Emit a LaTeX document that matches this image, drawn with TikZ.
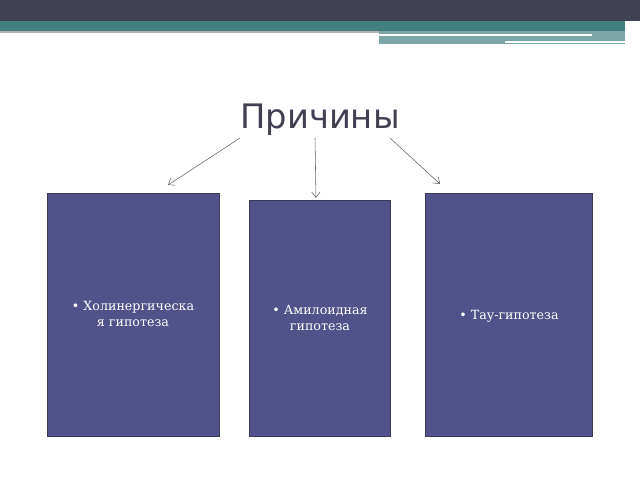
\documentclass[tikz,border=0pt]{standalone}
\usepackage{fontspec}
\setmainfont{DejaVu Serif}
\newfontfamily\titlefont{DejaVu Sans}
\usetikzlibrary{arrows.meta}
\definecolor{bandgray}{HTML}{414155}
\definecolor{bandteal}{HTML}{437F80}
\definecolor{boxfill}{HTML}{52528A}
\definecolor{boxline}{HTML}{3A3A55}
\definecolor{titlegray}{HTML}{404052}
\tikzset{
  causebox/.style={draw=boxline,fill=boxfill,text=white,align=center,font=\fontsize{9}{11}\selectfont,inner sep=2pt},
  causearrow/.style={draw=gray!80!black,-{Straight Barb[length=4pt,width=6pt]},thin}
}
\begin{document}
\begin{tikzpicture}[x=0.025cm,y=-0.025cm]
\useasboundingbox (0,0) rectangle (640,480);

% polosy vverhu
\fill[bandgray] (0,0) rectangle (640,21);
\fill[bandteal] (0,21) rectangle (625,31);
\fill[bandteal!70] (379,31) rectangle (625,44);
\draw[white,thick] (379,35) -- (592,35);
\draw[white,thick] (505,42) -- (625,42);
\fill[gray!60] (0,31) rectangle (379,33);

% zagolovok
\node[font=\titlefont\fontsize{24}{28}\selectfont,text=titlegray] (title) at (320,120) {Причины};

% pryamougolniki
\draw[causebox] (47,193) rectangle (219,436);
\node[causebox,draw=none,fill=none] (chol) at (133,314) {• Холинергическа\\я гипотеза};
\draw[causebox] (249,200) rectangle (390,436);
\node[causebox,draw=none,fill=none] (amyl) at (320,318) {• Амилоидная\\гипотеза};
\draw[causebox] (425,193) rectangle (592,436);
\node[causebox,draw=none,fill=none] (tau) at (509,316) {• Тау-гипотеза};

% strelki
\coordinate (t1) at (240,138);
\coordinate (t2) at (315,138);
\coordinate (t3) at (390,138);
\coordinate (b1) at (168,185);
\coordinate (b2) at (316,198);
\coordinate (b3) at (440,184);
\draw[causearrow] (t1) -- (b1);
\draw[causearrow] (t2) -- (b2);
\draw[causearrow] (t3) -- (b3);

\end{tikzpicture}
\end{document}
